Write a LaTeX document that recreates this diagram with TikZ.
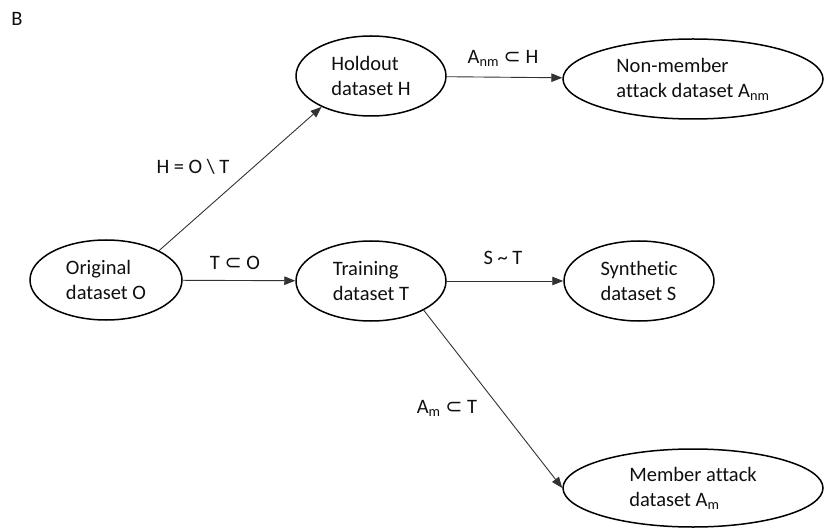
\documentclass[tikz,border=0pt]{standalone}
\usepackage{fontspec}
\setmainfont[Ligatures=NoCommon]{Carlito}
\newfontfamily\symf{DejaVu Sans}
\usetikzlibrary{shapes.geometric,arrows.meta}
\definecolor{txt}{RGB}{15,15,15}
\definecolor{lineclr}{RGB}{50,50,50}
\newcommand{\sbs}{{\symf\char"2282}}
\begin{document}
\begin{tikzpicture}[x=1pt,y=-1pt,
  ds/.style={ellipse,draw=black,line width=1.5pt,inner sep=0pt,align=left,
    font=\fontsize{20.5}{25}\selectfont,text=txt},
  con/.style={draw=lineclr,line width=0.9pt,-{Triangle[length=11pt,width=8.5pt]}},
  lbl/.style={font=\fontsize{20.5}{25}\selectfont,text=txt,inner sep=0pt}]
\useasboundingbox (0,0) rectangle (824,529);
\node[lbl] (B) at (17,19) {B};
\node[ds,minimum width=152pt,minimum height=80pt] (O) at (106,280) {Original\\dataset O};
\node[ds,minimum width=150pt,minimum height=80pt] (T) at (371,281) {Training\\dataset T};
\node[ds,minimum width=150pt,minimum height=80pt] (H) at (371,76) {Holdout\\dataset H};
\node[ds,minimum width=150pt,minimum height=80pt] (S) at (639,281) {Synthetic\\dataset S};
\node[ds,minimum width=260pt,minimum height=80pt] (NM) at (693,79) {Non-member\\attack dataset A\textsubscript{nm}};
\node[ds,minimum width=260pt,minimum height=78pt] (M) at (693,488) {Member attack\\dataset A\textsubscript{m}};
\draw[con] (O) -- (T);
\draw[con] (T) -- (S);
\draw[con] (H) -- (NM);
\draw[con] (O.29.5) -- (H.212);
\draw[con] (T.-29) -- (M.west);
\node[lbl] (l1) at (193,167) {H = O \textbackslash{} T};
\node[lbl] (l2) at (235,263) {T \sbs{} O};
\node[lbl] (l3) at (503,258) {S \textasciitilde{} T};
\node[lbl] (l4) at (503,58) {A\textsubscript{nm} \sbs{} H};
\node[lbl] (l5) at (447,408) {A\textsubscript{m} \sbs{} T};
\end{tikzpicture}
\end{document}
